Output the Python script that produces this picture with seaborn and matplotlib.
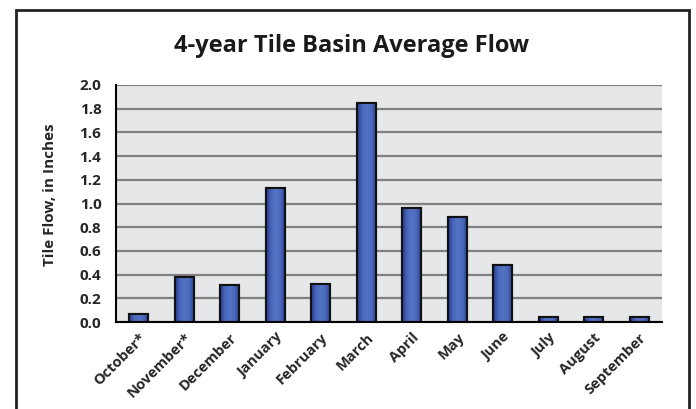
import numpy as np
import pandas as pd
import matplotlib
matplotlib.use("Agg")
import matplotlib.pyplot as plt
import seaborn as sns
from matplotlib.patches import Rectangle
from matplotlib.colors import LinearSegmentedColormap

months = ["October*", "November*", "December", "January", "February", "March",
          "April", "May", "June", "July", "August", "September"]
flow = [0.07, 0.38, 0.31, 1.13, 0.32, 1.85, 0.96, 0.89, 0.48, 0.04, 0.04, 0.04]
yticks = [0.0, 0.2, 0.4, 0.6, 0.8, 1.0, 1.2, 1.4, 1.6, 1.8, 2.0]

df = pd.DataFrame({"month": months, "flow": flow})

sns.set_style("white")
plt.rcParams["font.family"] = ["Open Sans", "DejaVu Sans"]

fig = plt.figure(figsize=(6.96, 4.09), dpi=100)
ax = fig.add_axes([116 / 696, 1 - 322 / 409, (662 - 116) / 696, (322 - 85) / 409])

sns.barplot(data=df, x="month", y="flow", ax=ax, color="#4262B4",
            width=0.42, edgecolor="#111111", linewidth=1.5, saturation=1)

# horizontal shading inside each bar (dark edges, lighter middle)
shade = LinearSegmentedColormap.from_list("shade", ["#24398A", "#4A68BC", "#5573C4", "#4A68BC", "#24398A"])
grad = np.linspace(0, 1, 64).reshape(1, -1)
for bar in ax.patches:
    x0, y0 = bar.get_x(), bar.get_y()
    w, h = bar.get_width(), bar.get_height()
    im = ax.imshow(grad, cmap=shade, aspect="auto", extent=(x0, x0 + w, y0, y0 + h),
                   zorder=bar.get_zorder() + 0.1, interpolation="bilinear")
    im.set_clip_path(bar)
    edge = Rectangle((x0, y0), w, h, fill=False, edgecolor="#111111", linewidth=1.5,
                     zorder=bar.get_zorder() + 0.2)
    ax.add_patch(edge)

ax.set_facecolor("#E6E7E9")
ax.set_ylim(0, 2.0)
ax.set_xlim(-0.5, len(months) - 0.5)
ax.set_yticks(yticks)
ax.set_yticklabels([f"{t:.1f}" for t in yticks], fontsize=11, fontweight="bold")
ax.yaxis.grid(True, color="#808080", linewidth=1.6)
ax.set_axisbelow(True)

ax.set_xticks(range(len(months)))
ax.set_xticklabels(months, rotation=45, ha="right", rotation_mode="anchor",
                   fontsize=10.5, fontweight="bold")
ax.set_xticks(np.arange(-0.5, len(months)), minor=True)
ax.tick_params(axis="x", which="major", length=0, pad=6)
ax.tick_params(axis="x", which="minor", length=4, width=1.3, color="black", direction="out")
ax.tick_params(axis="y", length=4.5, width=1.3, color="black", direction="out", pad=6)

for side in ["top", "right"]:
    ax.spines[side].set_visible(False)
for side in ["left", "bottom"]:
    ax.spines[side].set_color("black")
    ax.spines[side].set_linewidth(1.5)

ax.set_xlabel("")
ax.set_ylabel("Tile Flow, in Inches", fontsize=11, fontweight="bold")
ax.yaxis.set_label_coords(-0.108, 0.536)

fig.text(352 / 696, 1 - 46 / 409, "4-year Tile Basin Average Flow",
         ha="center", va="center", fontsize=17, fontweight="bold", color="#1A1A1A")

border = Rectangle((16 / 696, -0.05), (689 - 16) / 696, 1.05 - 10 / 409,
                   transform=fig.transFigure, fill=False, edgecolor="#222222",
                   linewidth=2, clip_on=False)
fig.patches.append(border)

fig.savefig("out.png", dpi=100)
